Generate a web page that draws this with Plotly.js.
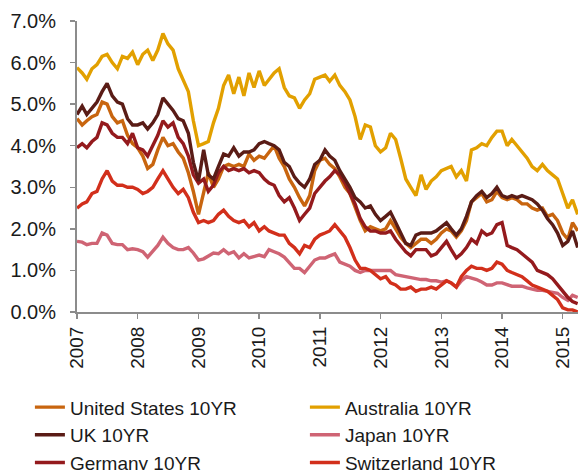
<!DOCTYPE html>
<html>
<head>
<meta charset="utf-8">
<script src="https://cdn.plot.ly/plotly-3.0.1.min.js"></script>
<style>html,body{margin:0;padding:0;background:#fff;}#chart{width:579px;height:470px;}</style>
</head>
<body>
<div id="chart"></div>
<script>
// Monthly observation dates: Jan 2007 .. Apr 2015
var startYear = 2007, startMonth = 1, nMonths = 100;
var dates = [];
for (var i = 0; i < nMonths; i++) {
  var mm = startMonth - 1 + i;
  var yy = startYear + Math.floor(mm / 12);
  var mo = (mm % 12) + 1;
  dates.push(yy + '-' + (mo < 10 ? '0' + mo : mo) + '-01');
}

var seriesNames = ['United States 10YR', 'Australia 10YR', 'UK 10YR', 'Japan 10YR', 'Germany 10YR', 'Switzerland 10YR'];

var us = [
  4.65,4.5,4.6,4.7,4.75,5.05,5.0,4.7,4.55,4.6,4.25,4.05,
  3.95,3.75,3.45,3.55,3.9,4.2,4.0,4.05,3.85,3.7,3.35,2.9,
  2.35,2.85,3.35,3.0,3.2,3.5,3.55,3.5,3.55,3.5,3.8,3.65,
  3.75,3.7,3.85,4.0,3.7,3.5,3.2,3.0,2.75,2.55,2.8,3.4,
  3.65,3.7,3.55,3.45,3.25,3.0,2.85,2.5,2.2,1.95,2.05,2.0,
  1.95,2.0,2.2,2.0,1.8,1.65,1.55,1.65,1.75,1.75,1.65,1.75,
  1.9,2.0,1.95,1.8,1.95,2.2,2.65,2.75,2.85,2.65,2.7,2.9,
  2.75,2.7,2.75,2.7,2.6,2.6,2.5,2.45,2.5,2.3,2.35,2.2,
  1.9,1.75,2.15,1.95
];
var australia = [
  5.88,5.75,5.6,5.85,5.95,6.15,6.2,6.0,5.85,6.15,6.1,6.25,
  5.95,6.2,6.3,6.05,6.3,6.7,6.45,6.3,5.85,5.6,5.3,4.6,
  4.0,4.05,4.1,4.55,4.9,5.45,5.7,5.25,5.65,5.2,5.75,5.4,
  5.8,5.45,5.6,5.75,5.85,5.4,5.2,5.15,4.9,5.1,5.25,5.6,
  5.65,5.7,5.55,5.7,5.45,5.3,5.1,4.7,4.15,4.5,4.45,4.0,
  3.85,3.95,4.3,4.15,3.7,3.2,3.0,2.8,3.3,2.95,3.15,3.25,
  3.4,3.45,3.5,3.25,3.4,3.15,3.9,3.95,4.05,4.0,4.2,4.35,
  4.35,4.0,4.15,4.0,3.85,3.7,3.5,3.4,3.55,3.4,3.3,3.2,
  2.85,2.5,2.7,2.35
];
var uk = [
  4.75,4.95,4.75,4.9,5.05,5.3,5.5,5.2,5.05,5.0,4.65,4.5,
  4.5,4.55,4.4,4.55,4.75,5.15,5.0,4.85,4.65,4.6,4.3,3.6,
  3.15,3.9,3.3,3.2,3.5,3.8,3.75,3.95,3.75,3.85,3.85,3.9,
  4.05,4.1,4.05,4.0,3.9,3.6,3.5,3.25,3.1,3.0,3.2,3.55,
  3.65,3.9,3.75,3.65,3.4,3.2,3.0,2.75,2.65,2.5,2.55,2.35,
  2.2,2.3,2.4,2.15,1.9,1.65,1.6,1.85,1.9,1.9,1.9,1.95,
  2.05,2.15,2.0,1.85,2.0,2.3,2.65,2.8,2.9,2.75,2.85,3.0,
  2.8,2.75,2.8,2.75,2.8,2.75,2.7,2.6,2.45,2.25,2.1,1.9,
  1.6,1.7,1.95,1.55
];
var japan = [
  1.7,1.68,1.62,1.65,1.65,1.9,1.85,1.65,1.62,1.62,1.5,1.52,
  1.5,1.45,1.32,1.45,1.6,1.8,1.65,1.55,1.5,1.5,1.55,1.42,
  1.25,1.28,1.35,1.42,1.4,1.5,1.4,1.45,1.3,1.4,1.3,1.33,
  1.37,1.33,1.5,1.45,1.4,1.32,1.2,1.05,1.05,0.95,1.1,1.25,
  1.3,1.3,1.35,1.4,1.2,1.15,1.1,1.0,0.95,1.0,1.0,1.0,
  1.0,1.0,1.0,0.9,0.88,0.85,0.82,0.8,0.78,0.78,0.75,0.75,
  0.72,0.75,0.7,0.6,0.75,0.85,0.82,0.78,0.72,0.65,0.65,0.7,
  0.7,0.65,0.62,0.62,0.62,0.58,0.55,0.52,0.52,0.5,0.48,0.45,
  0.35,0.28,0.4,0.35
];
var germany = [
  3.95,4.05,3.95,4.1,4.2,4.55,4.5,4.3,4.2,4.2,4.05,4.3,
  3.95,3.9,3.75,4.0,4.25,4.6,4.45,4.55,4.2,4.05,3.75,3.3,
  3.1,3.2,2.9,3.05,3.35,3.5,3.4,3.45,3.4,3.45,3.35,3.4,
  3.35,3.2,3.1,3.05,2.8,2.65,2.75,2.5,2.2,2.35,2.5,2.85,
  3.0,3.15,3.25,3.4,3.3,3.1,2.85,2.6,2.25,2.05,1.95,1.95,
  1.9,1.9,1.95,1.75,1.6,1.45,1.35,1.5,1.5,1.5,1.35,1.4,
  1.55,1.7,1.5,1.3,1.4,1.55,1.75,1.65,1.95,1.85,1.9,2.1,
  2.15,1.6,1.55,1.5,1.4,1.3,1.2,1.0,0.95,0.9,0.8,0.65,
  0.5,0.35,0.25,0.2
];
var switzerland = [
  2.5,2.6,2.65,2.85,2.9,3.2,3.4,3.15,3.05,3.05,3.0,3.0,
  2.95,2.85,2.9,3.0,3.2,3.4,3.2,3.0,2.85,2.95,2.75,2.4,
  2.15,2.2,2.15,2.2,2.35,2.45,2.3,2.2,2.15,2.2,2.05,2.15,
  1.95,2.05,1.95,1.9,1.85,1.85,1.65,1.55,1.4,1.6,1.55,1.75,
  1.85,1.9,1.95,2.1,1.95,1.8,1.55,1.25,1.05,1.05,1.0,0.9,
  0.8,0.85,0.7,0.65,0.55,0.55,0.6,0.5,0.55,0.55,0.6,0.55,
  0.65,0.75,0.7,0.6,0.85,1.0,1.1,1.05,1.05,1.0,1.05,1.2,
  1.15,1.0,0.95,0.9,0.85,0.75,0.65,0.6,0.55,0.5,0.4,0.3,
  0.1,0.05,0.05,0.0
];
var yTickVals = [0,1,2,3,4,5,6,7];
var yTickText = ['0.0%','1.0%','2.0%','3.0%','4.0%','5.0%','6.0%','7.0%'];
var xTickVals = ['2007-01-01','2008-01-01','2009-01-01','2010-01-01','2011-01-01','2012-01-01','2013-01-01','2014-01-01','2015-01-01'];
var xTickText = ['2007','2008','2009','2010','2011','2012','2013','2014','2015'];

var colors = ['#C8650F', '#E2A000', '#5A1C16', '#CF6474', '#941A1D', '#D22F1B'];
var values = [us, australia, uk, japan, germany, switzerland];
var drawOrder = [1, 3, 0, 4, 2, 5];

var traces = drawOrder.map(function (k) {
  return {
    x: dates, y: values[k], type: 'scatter', mode: 'lines',
    name: seriesNames[k], legendrank: k + 1,
    line: {color: colors[k], width: 3.4},
    hoverinfo: 'skip'
  };
});

var axisGray = '#8C8C8C';
var layout = {
  width: 579, height: 470,
  margin: {l: 77, r: 1, t: 21, b: 158, autoexpand: false},
  paper_bgcolor: '#fff', plot_bgcolor: '#fff',
  font: {family: 'Liberation Sans, Arial, sans-serif', size: 19, color: '#1a1a1a'},
  showlegend: true,
  legend: {
    orientation: 'h', x: -0.094, xanchor: 'left', y: -0.262, yanchor: 'top',
    entrywidth: 230, entrywidthmode: 'pixels',
    font: {size: 19, color: '#1a1a1a'}, traceorder: 'normal',
    bgcolor: 'rgba(0,0,0,0)'
  },
  xaxis: {
    type: 'date', range: ['2007-01-01', '2015-04-03'],
    tickmode: 'array', tickvals: xTickVals, ticktext: xTickText,
    tickangle: -90, ticks: 'outside', ticklen: 5, tickwidth: 1.5, tickcolor: axisGray,
    showline: true, linecolor: axisGray, linewidth: 2, showgrid: false, zeroline: false,
    tickfont: {size: 19}
  },
  yaxis: {
    range: [0, 7], tickmode: 'array', tickvals: yTickVals, ticktext: yTickText,
    ticks: 'outside', ticklen: 5, tickwidth: 1.5, tickcolor: axisGray,
    ticklabelstandoff: 10,
    showline: true, linecolor: axisGray, linewidth: 2, showgrid: false, zeroline: false,
    tickfont: {size: 20}
  }
};

Plotly.newPlot('chart', traces, layout, {staticPlot: true, displayModeBar: false});
</script>
</body>
</html>
